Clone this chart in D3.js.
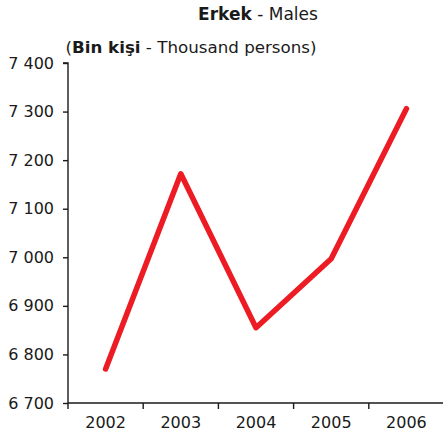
<!DOCTYPE html>
<html>
<head>
<meta charset="utf-8">
<script src="https://cdn.jsdelivr.net/npm/d3@7"></script>
<style>
  html, body { margin: 0; padding: 0; background: #fff; }
  svg { display: block; font-family: "DejaVu Sans", Verdana, sans-serif; }
</style>
</head>
<body>
<svg id="chart" width="443" height="434"></svg>
<script>
// Male population, thousand persons
const years = ["2002", "2003", "2004", "2005", "2006"];
const males = [6770, 7172, 6855, 6997, 7306];
const yTicks = [6700, 6800, 6900, 7000, 7100, 7200, 7300, 7400];

const svg = d3.select("#chart");
const plotLeft = 68, plotRight = 444, plotTop = 63, plotBottom = 403;

const x = d3.scaleBand().domain(years).range([plotLeft, plotRight]);
const y = d3.scaleLinear().domain([6700, 7400]).range([plotBottom, plotTop]);

const fmt = v => d3.format(",")(v).replace(",", " ");

// Y axis
const yAxis = svg.append("g")
  .attr("transform", `translate(${plotLeft},0)`)
  .call(d3.axisLeft(y).tickValues(yTicks).tickFormat(fmt).tickSize(5).tickPadding(9));
yAxis.select(".domain").attr("d", `M-5,${plotTop}H0V${plotBottom}`);

// X axis with ticks on band edges
const xAxis = svg.append("g")
  .attr("transform", `translate(0,${plotBottom})`)
  .call(d3.axisBottom(x).tickSize(0).tickPadding(14));
xAxis.select(".domain").attr("d", `M${plotLeft},0H${plotRight}`);
xAxis.selectAll(".edge")
  .data(years)
  .enter().append("line")
  .attr("class", "edge")
  .attr("x1", d => x(d)).attr("x2", d => x(d))
  .attr("y1", 0).attr("y2", 6);

svg.selectAll(".domain, .tick line, .edge")
  .attr("stroke", "#1a1a1a").attr("stroke-width", 1.4);
svg.selectAll(".tick text")
  .attr("fill", "#1a1a1a")
  .style("font-size", "16px")
  .style("font-family", "'DejaVu Sans', Verdana, sans-serif");

// Data line
const line = d3.line()
  .x((d, i) => x(years[i]) + x.bandwidth() / 2)
  .y(d => y(d));
svg.append("path")
  .datum(males)
  .attr("d", line)
  .attr("fill", "none")
  .attr("stroke", "#ed1c24")
  .attr("stroke-width", 5.5)
  .attr("stroke-linecap", "round")
  .attr("stroke-linejoin", "round");

// Titles
const t1 = svg.append("text").attr("x", 258).attr("y", 20)
  .attr("text-anchor", "middle").attr("fill", "#1a1a1a").style("font-size", "17px");
t1.append("tspan").attr("font-weight", "bold").text("Erkek");
t1.append("tspan").text(" - Males");

const t2 = svg.append("text").attr("x", 191).attr("y", 53)
  .attr("text-anchor", "middle").attr("fill", "#1a1a1a").style("font-size", "16.7px");
t2.append("tspan").text("(");
t2.append("tspan").attr("font-weight", "bold").text("Bin kişi");
t2.append("tspan").text(" - Thousand persons)");
</script>
</body>
</html>
